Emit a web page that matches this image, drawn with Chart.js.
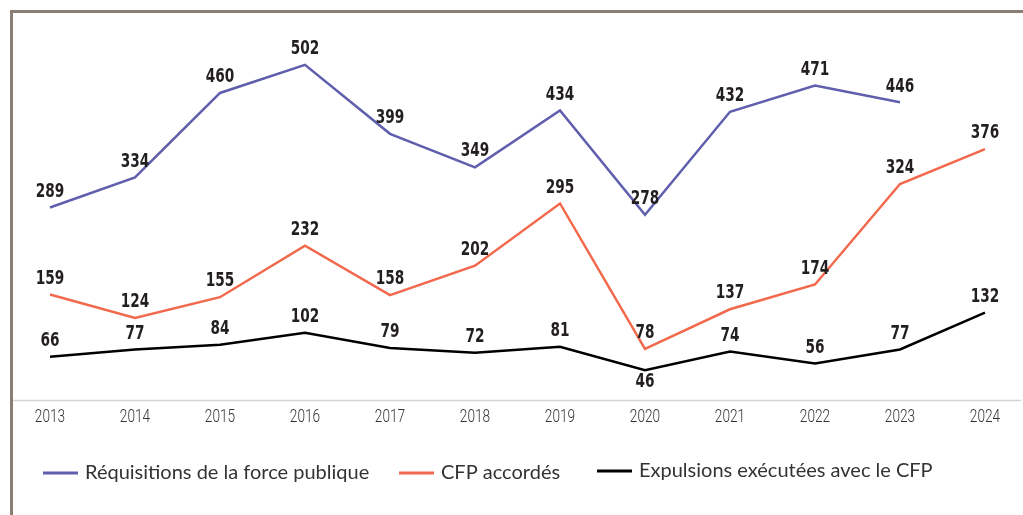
<!DOCTYPE html>
<html lang="fr">
<head>
<meta charset="utf-8">
<title>Réquisitions, CFP et expulsions</title>
<script src="https://cdn.jsdelivr.net/npm/chart.js@4.4.1/dist/chart.umd.min.js"></script>
<style>
    html, body { margin: 0; padding: 0; background: #fff; }
    .chart-wrap { position: relative; width: 1023px; height: 515px; }
</style>
</head>
<body>
<div class="chart-wrap"><canvas id="chart"></canvas></div>
<script>
// Années
const years = ['2013', '2014', '2015', '2016', '2017', '2018', '2019', '2020', '2021', '2022', '2023', '2024'];

// Séries
const requisitions = [289, 334, 460, 502, 399, 349, 434, 278, 432, 471, 446, null];
const cfpAccordes = [159, 124, 155, 232, 158, 202, 295, 78, 137, 174, 324, 376];
const expulsions = [66, 77, 84, 102, 79, 72, 81, 46, 74, 56, 77, 132];

const seriesNames = [
    'Réquisitions de la force publique',
    'CFP accordés',
    'Expulsions exécutées avec le CFP'
];

// texte étroit : on resserre horizontalement une police normale
function narrowText(ctx, text, x, y, squeeze) {
    ctx.save();
    ctx.translate(x, y);
    ctx.scale(squeeze, 1);
    ctx.fillText(text, 0, 0);
    ctx.restore();
}

// Cadre gris en haut et à gauche + ligne de base
const framePlugin = {
    id: 'frame',
    beforeDraw(chart) {
        const ctx = chart.ctx;
        ctx.save();
        ctx.strokeStyle = '#8a7f72';
        ctx.lineWidth = 3;
        ctx.beginPath();
        ctx.moveTo(10, 11.5);
        ctx.lineTo(chart.width, 11.5);
        ctx.moveTo(11.5, 10);
        ctx.lineTo(11.5, chart.height);
        ctx.stroke();

        ctx.strokeStyle = '#d4d4d4';
        ctx.lineWidth = 1.5;
        ctx.beginPath();
        const yBase = chart.chartArea.bottom - 0.5;
        ctx.moveTo(13, yBase);
        ctx.lineTo(chart.width - 2, yBase);
        ctx.stroke();
        ctx.restore();
    }
};

// Années sous l'axe
const yearLabels = {
    id: 'yearLabels',
    afterDraw(chart) {
        const ctx = chart.ctx;
        const xs = chart.scales.x;
        ctx.save();
        ctx.font = '300 19px Roboto, sans-serif';
        ctx.fillStyle = '#333';
        ctx.textAlign = 'center';
        ctx.textBaseline = 'middle';
        chart.data.labels.forEach((lab, i) => {
            narrowText(ctx, lab, xs.getPixelForValue(i), chart.chartArea.bottom + 16, 0.72);
        });
        ctx.restore();
    }
};

// Valeurs au-dessus des points (46 en dessous)
const valueLabels = {
    id: 'valueLabels',
    afterDatasetsDraw(chart) {
        const ctx = chart.ctx;
        ctx.save();
        ctx.font = 'bold 20px "DejaVu Sans Condensed", "DejaVu Sans", sans-serif';
        ctx.fillStyle = '#231f20';
        ctx.textAlign = 'center';
        ctx.textBaseline = 'middle';
        chart.data.datasets.forEach((ds, i) => {
            chart.getDatasetMeta(i).data.forEach((pt, j) => {
                const v = ds.data[j];
                if (v === null) return;
                const below = (i === 2 && j === 7);
                narrowText(ctx, String(v), pt.x, below ? pt.y + 12 : pt.y - 16, 0.76);
            });
        });
        ctx.restore();
    }
};

// Légende en bas
const legendX = [43, 399, 597];
const legendY = [473, 473, 471];
const legendLine = {
    id: 'legendLine',
    afterDraw(chart) {
        const ctx = chart.ctx;
        ctx.save();
        ctx.font = '400 20px Lato, "Open Sans", sans-serif';
        ctx.textBaseline = 'middle';
        chart.data.datasets.forEach((ds, i) => {
            const x = legendX[i], y = legendY[i];
            ctx.strokeStyle = ds.borderColor;
            ctx.lineWidth = 3;
            ctx.beginPath();
            ctx.moveTo(x, y);
            ctx.lineTo(x + 35, y);
            ctx.stroke();
            ctx.fillStyle = '#333';
            ctx.fillText(ds.label, x + 42, y);
        });
        ctx.restore();
    }
};

const lineStyle = { borderWidth: 2.5, pointRadius: 0, tension: 0, fill: false };

new Chart(document.getElementById('chart'), {
    type: 'line',
    data: {
        labels: years,
        datasets: [
            { label: seriesNames[0], data: requisitions, borderColor: '#5f5fae', backgroundColor: '#5f5fae', ...lineStyle },
            { label: seriesNames[1], data: cfpAccordes, borderColor: '#f2694d', backgroundColor: '#f2694d', ...lineStyle },
            { label: seriesNames[2], data: expulsions, borderColor: '#000000', backgroundColor: '#000000', ...lineStyle }
        ]
    },
    options: {
        responsive: true,
        maintainAspectRatio: false,
        animation: false,
        layout: { padding: { top: 26, bottom: 114, left: 50, right: 38 } },
        scales: {
            x: {
                offset: false,
                grid: { display: false, drawTicks: false },
                border: { display: false },
                ticks: { display: false }
            },
            y: {
                display: false,
                min: 0,
                max: 560
            }
        },
        plugins: {
            legend: { display: false },
            tooltip: { enabled: false }
        }
    },
    plugins: [framePlugin, valueLabels, yearLabels, legendLine]
});
</script>
</body>
</html>
